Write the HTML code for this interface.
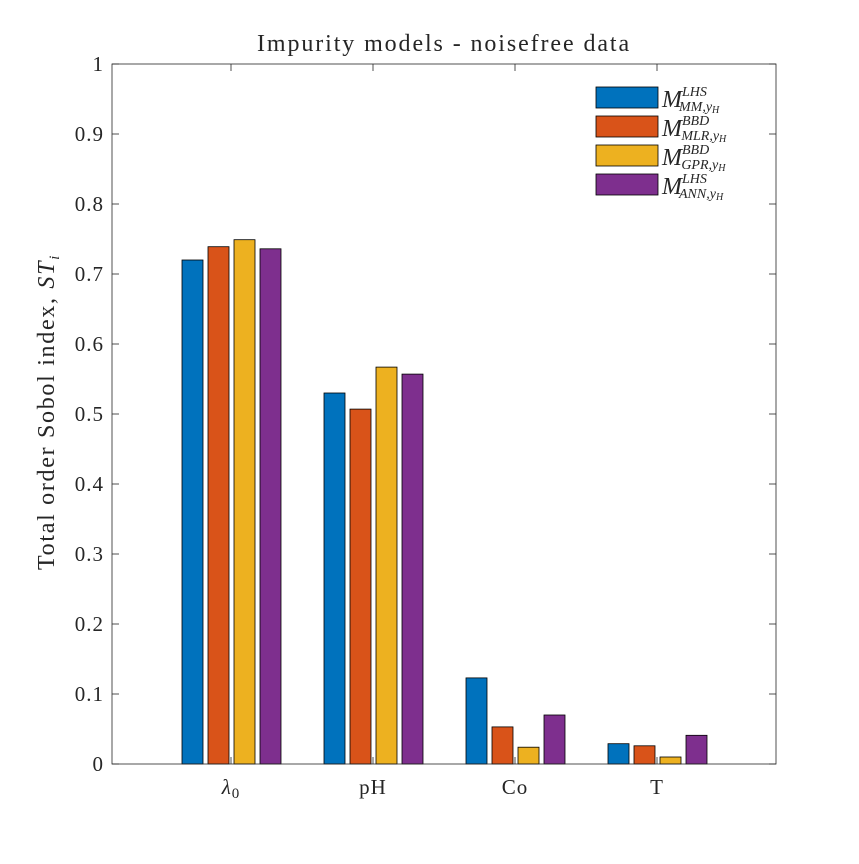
<!DOCTYPE html>
<html><head><meta charset="utf-8"><style>
body{margin:0;background:#fff}
svg text{font-family:"Liberation Serif",serif;fill:#262626}
</style></head><body>
<svg id="chart" width="859" height="859">
<rect width="859" height="859" fill="#fff"/>
<text x="444" y="51" font-size="24" letter-spacing="1.9" text-anchor="middle">Impurity models - noisefree data</text>
<text transform="translate(54,412) rotate(-90)" font-size="24" letter-spacing="1.7" text-anchor="middle">Total order Sobol index, <tspan font-style="italic">ST</tspan><tspan font-style="italic" font-size="15" dy="5">i</tspan></text>
<g id="bars"></g>
<g id="axes"></g>
<g id="legend"></g>
</svg>
<script>
const categories=["λ0","pH","Co","T"];
const s1=[0.720,0.530,0.123,0.029];
const s2=[0.739,0.507,0.053,0.026];
const s3=[0.749,0.567,0.024,0.010];
const s4=[0.736,0.557,0.070,0.041];
const yTicks=[0,0.1,0.2,0.3,0.4,0.5,0.6,0.7,0.8,0.9,1];
const yTickLabels=["0","0.1","0.2","0.3","0.4","0.5","0.6","0.7","0.8","0.9","1"];
const series=[s1,s2,s3,s4];
const colors=["#0072BD","#D95319","#EDB120","#7E2F8E"];
const names=["mm","mlr","gpr","ann"];
const NS="http://www.w3.org/2000/svg";
const L=112,R=776,T=64,B=764;
const y=v=>B-(B-T)*v;
const x=i=>231+142*i;
function mk(tag,attrs,parent){const e=document.createElementNS(NS,tag);for(const k in attrs)e.setAttribute(k,attrs[k]);parent.appendChild(e);return e;}
const gb=document.getElementById('bars');
series.forEach((s,si)=>{s.forEach((v,i)=>{
 const r=mk('rect',{x:x(i)+(si-1.5)*26-10,y:y(v),width:21,height:B-y(v),fill:colors[si],stroke:'#000','stroke-width':0.8},gb);
 
 
});});
const ga=document.getElementById('axes');
mk('rect',{x:L,y:T,width:R-L,height:B-T,fill:'none',stroke:'#262626','stroke-width':0.8},ga);
yTicks.forEach((t,i)=>{
 mk('line',{x1:L,x2:L+7,y1:y(t),y2:y(t),stroke:'#262626','stroke-width':0.8},ga);
 mk('line',{x1:R,x2:R-7,y1:y(t),y2:y(t),stroke:'#262626','stroke-width':0.8},ga);
 const tx=mk('text',{x:L-8,y:y(t)+7,'font-size':21,'letter-spacing':1,'text-anchor':'end'},ga);
 tx.textContent=yTickLabels[i];
 
 
});
categories.forEach((c,i)=>{
 mk('line',{x1:x(i),x2:x(i),y1:B,y2:B-7,stroke:'#262626','stroke-width':0.8},ga);
 mk('line',{x1:x(i),x2:x(i),y1:T,y2:T+7,stroke:'#262626','stroke-width':0.8},ga);
 const tx=mk('text',{x:x(i),y:794,'font-size':21,'letter-spacing':1,'text-anchor':'middle'},ga);
 
 
 if(c==="λ0"){tx.innerHTML='<tspan font-style="italic">λ</tspan><tspan font-size="15" dy="4">0</tspan>';}
 else tx.textContent=c;
});
const lg=document.getElementById('legend');
const sup=["LHS","BBD","BBD","LHS"],sub=["MM,","MLR,","GPR,","ANN,"];
for(let i=0;i<4;i++){
 const yy=87+29*i;
 const r=mk('rect',{x:596,y:yy,width:62,height:21,fill:colors[i],stroke:'#000','stroke-width':0.8},lg);
 
 
 const t=mk('text',{x:662,y:yy+20,'font-size':24},lg);
 
 
 t.innerHTML='<tspan font-style="italic">M</tspan><tspan font-style="italic" font-size="14" dy="-11">'+sup[i]+'</tspan><tspan font-style="italic" font-size="14" dx="-'+(sup[i].length*9.3)+'" dy="15">'+sub[i]+'y</tspan><tspan font-style="italic" font-size="10" dy="2">H</tspan>';
}
</script>
</body></html>
